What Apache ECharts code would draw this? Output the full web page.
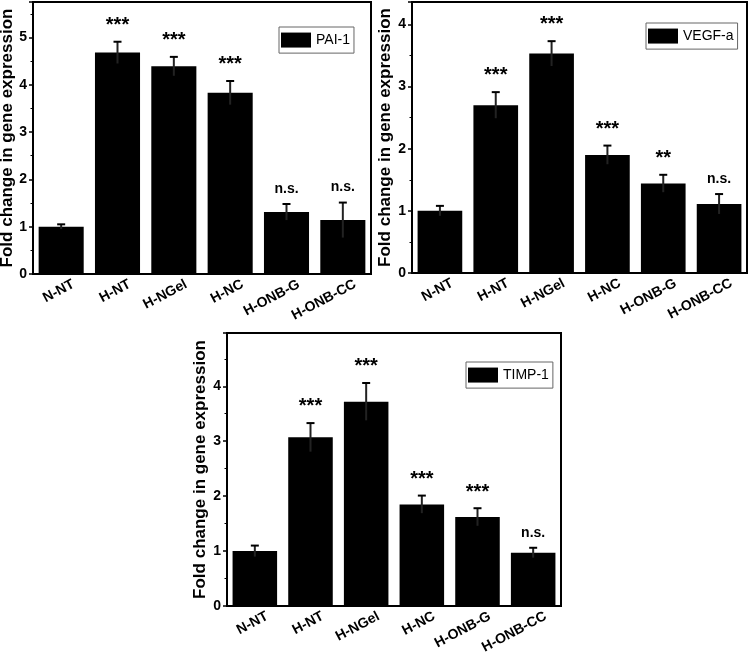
<!DOCTYPE html>
<html>
<head>
    <title>Fold change in gene expression</title>
    <script src="https://cdn.jsdelivr.net/npm/echarts@6/dist/echarts.min.js"></script>
    <style>
        html, body { margin: 0; padding: 0; background: #fff; }
        #chart { width: 750px; height: 659px; }
    </style>
</head>
<body>
    <div id="chart"></div>
    <script>
        const groups = ['N-NT', 'H-NT', 'H-NGel', 'H-NC', 'H-ONB-G', 'H-ONB-CC'];

        const pai1Values = [1.00, 4.68, 4.39, 3.83, 1.31, 1.14];
        const pai1Errors = [0.05, 0.23, 0.20, 0.25, 0.17, 0.37];
        const pai1Marks = ['', '***', '***', '***', 'n.s.', 'n.s.'];

        const vegfValues = [1.00, 2.70, 3.53, 1.90, 1.44, 1.11];
        const vegfErrors = [0.08, 0.21, 0.20, 0.15, 0.14, 0.16];
        const vegfMarks = ['', '***', '***', '***', '**', 'n.s.'];

        const timpValues = [1.00, 3.07, 3.72, 1.85, 1.62, 0.97];
        const timpErrors = [0.10, 0.26, 0.34, 0.16, 0.16, 0.09];
        const timpMarks = ['', '***', '***', '***', '***', 'n.s.'];

        const yTickLabels = ['0', '1', '2', '3', '4', '5'];

        const FONT = 'Liberation Sans, Arial, sans-serif';

        const panels = [
            { name: 'PAI-1', values: pai1Values, errors: pai1Errors, marks: pai1Marks, max: 5.75, nameGap: 11,
              grid: { left: 33, top: 2, width: 338, height: 272 }, legend: { left: 279, top: 27 } },
            { name: 'VEGF-a', values: vegfValues, errors: vegfErrors, marks: vegfMarks, max: 4.36, nameGap: 12,
              grid: { left: 412, top: 2, width: 335, height: 271 }, legend: { left: 646, top: 23 } },
            { name: 'TIMP-1', values: timpValues, errors: timpErrors, marks: timpMarks, max: 4.97, nameGap: 12,
              grid: { left: 227, top: 333, width: 334, height: 273 }, legend: { left: 466, top: 362 } }
        ];

        function errorRenderer(params, api) {
            const x = api.value(0);
            const v = api.value(1);
            const e = api.value(2);
            const mark = api.value(3);
            const top = api.coord([x, v + e]);
            const bottom = api.coord([x, v - e]);
            const cap = 4;
            const children = [
                { type: 'line', shape: { x1: top[0], y1: top[1], x2: bottom[0], y2: bottom[1] },
                  style: { stroke: '#222', lineWidth: 2 } },
                { type: 'line', shape: { x1: top[0] - cap, y1: top[1], x2: top[0] + cap, y2: top[1] },
                  style: { stroke: '#000', lineWidth: 2 } }
            ];
            if (mark) {
                const isStar = mark.indexOf('*') === 0;
                children.push({
                    type: 'text',
                    x: top[0],
                    y: top[1] - (isStar ? -1 : 3),
                    style: {
                        text: mark,
                        fill: '#000',
                        font: 'bold ' + (isStar ? 20 : 14) + 'px ' + FONT,
                        align: 'center',
                        verticalAlign: 'bottom'
                    }
                });
            }
            return { type: 'group', children: children };
        }

        const option = {
            animation: false,
            grid: [],
            xAxis: [],
            yAxis: [],
            legend: [],
            series: []
        };

        panels.forEach((p, i) => {
            option.grid.push(Object.assign({
                show: true,
                outerBoundsMode: 'none',
                containLabel: false,
                borderColor: '#000',
                borderWidth: 2,
                backgroundColor: 'transparent'
            }, p.grid));

            option.xAxis.push({
                type: 'category',
                gridIndex: i,
                data: groups,
                boundaryGap: true,
                axisLine: { lineStyle: { color: '#000', width: 2 } },
                axisTick: { alignWithLabel: true, length: 4, lineStyle: { color: '#000', width: 1.5 } },
                axisLabel: {
                    rotate: 28,
                    margin: 16,
                    color: '#000',
                    fontWeight: 'bold',
                    fontSize: 14,
                    fontFamily: FONT,
                    interval: 0,
                    padding: [0, -14, 0, 0]
                }
            });

            option.yAxis.push({
                type: 'value',
                gridIndex: i,
                min: 0,
                max: p.max,
                interval: 1,
                name: 'Fold change in gene expression',
                nameLocation: 'middle',
                nameGap: p.nameGap,
                nameMoveOverlap: false,
                nameTextStyle: { color: '#000', fontWeight: 'bold', fontSize: 17, fontFamily: FONT },
                splitLine: { show: false },
                axisLine: { show: true, lineStyle: { color: '#000', width: 2 } },
                axisTick: { show: true, length: 4, lineStyle: { color: '#000', width: 1.5 } },
                minorTick: { show: true, splitNumber: 2, length: 2.5, lineStyle: { color: '#000', width: 1 } },
                axisLabel: {
                    margin: 6,
                    color: '#000',
                    fontWeight: 'bold',
                    fontSize: 14,
                    fontFamily: FONT,
                    formatter: v => (Number.isInteger(v) ? yTickLabels[v] : '')
                }
            });

            option.legend.push({
                data: [p.name],
                left: p.legend.left,
                top: p.legend.top,
                icon: 'rect',
                itemWidth: 30,
                itemHeight: 15,
                padding: [1, 4, 1, 2],
                borderColor: '#666',
                borderWidth: 1,
                selectedMode: false,
                textStyle: { color: '#000', fontSize: 14, fontFamily: FONT }
            });

            option.series.push({
                name: p.name,
                type: 'bar',
                xAxisIndex: i,
                yAxisIndex: i,
                data: p.values,
                barCategoryGap: '20%',
                itemStyle: { color: '#000' }
            });

            option.series.push({
                type: 'custom',
                xAxisIndex: i,
                yAxisIndex: i,
                renderItem: errorRenderer,
                data: p.values.map((v, k) => [k, v, p.errors[k], p.marks[k]]),
                z: 5
            });
        });

        const chart = echarts.init(document.getElementById('chart'));
        chart.setOption(option);
    </script>
</body>
</html>
